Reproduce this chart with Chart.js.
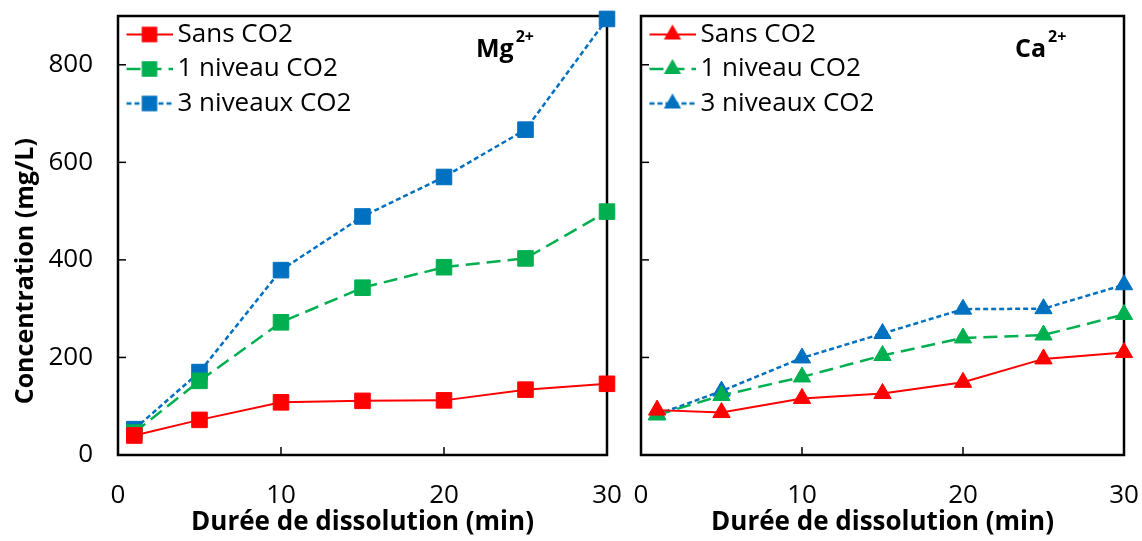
<!DOCTYPE html>
<html>
<head>
<meta charset="utf-8">
<script src="https://cdn.jsdelivr.net/npm/chart.js@4"></script>
<style>
    body { margin: 0; background: #fff; }
    #wrap { position: relative; width: 1142px; height: 541px; }
    canvas { position: absolute; top: 0; }
</style>
</head>
<body>
<div id="wrap">
    <canvas id="mgChart" width="630" height="541" style="left:0"></canvas>
    <canvas id="caChart" width="522" height="541" style="left:620px"></canvas>
</div>
<script>
// minutes of dissolution
var minutes = [1, 5, 10, 15, 20, 25, 30];
var seriesNames = ['Sans CO2', '1 niveau CO2', '3 niveaux CO2'];

// Mg2+ (mg/L)
var mgSans = [40, 72, 108, 111, 112, 134, 146];
var mgUn = [46, 152, 272, 343, 385, 403, 499];
var mgTrois = [53, 170, 379, 489, 570, 667, 894];

// Ca2+ (mg/L)
var caSans = [92, 87, 116, 126, 149, 197, 210];
var caUn = [82, 122, 160, 204, 240, 246, 288];
var caTrois = [83, 131, 199, 249, 299, 300, 349];

var xTicks = [0, 10, 20, 30];
var yTicks = [0, 200, 400, 600, 800];

var colors = ['#ff0000', '#00b050', '#0070c0'];
var dashes = [[], [14, 7], [5, 3]];
var widths = [2, 2.5, 2.5];

Chart.defaults.font.family = "'Open Sans'";
Chart.defaults.color = '#000';

function markerPath(g, marker, r, x, y) {
    g.beginPath();
    if (marker === 'triangle') {
        g.moveTo(x, y - r);
        g.lineTo(x + r * 0.866, y + r / 2);
        g.lineTo(x - r * 0.866, y + r / 2);
        g.closePath();
    } else {
        var s = r * Math.SQRT1_2;
        g.rect(x - s, y - s, 2 * s, 2 * s);
    }
}

// legend sample: a bit of line with the marker in the middle
function legendIcon(i, marker, radius) {
    var c = document.createElement('canvas');
    c.width = 54; c.height = 26;
    var g = c.getContext('2d');
    g.strokeStyle = colors[i];
    g.lineWidth = widths[i];
    g.setLineDash(dashes[i]);
    g.beginPath(); g.moveTo(8, 13); g.lineTo(54, 13); g.stroke();
    g.setLineDash([]);
    g.fillStyle = colors[i];
    markerPath(g, marker, radius, 31, 13);
    g.fill();
    return c;
}

function makeDatasets(series, marker, radius) {
    return series.map(function (vals, i) {
        return {
            label: seriesNames[i],
            data: minutes.map(function (m, j) { return { x: m, y: vals[j] }; }),
            borderColor: colors[i],
            backgroundColor: colors[i],
            borderWidth: widths[i],
            borderDash: dashes[i],
            pointStyle: marker,
            pointRadius: radius,
            pointHoverRadius: radius,
            pointBorderWidth: 1,
            tension: 0,
            clip: false
        };
    });
}

// box around the plot + inward tick marks
var frame = {
    id: 'frame',
    beforeDatasetsDraw: function (chart) {
        var ctx = chart.ctx, a = chart.chartArea;
        var xs = chart.scales.x, ys = chart.scales.y;
        ctx.save();
        ctx.strokeStyle = '#000';
        ctx.lineWidth = 1.5;
        ys.ticks.forEach(function (t) {
            if (t.value <= 0) return;
            var y = ys.getPixelForValue(t.value);
            ctx.beginPath(); ctx.moveTo(a.left, y); ctx.lineTo(a.left + 8, y); ctx.stroke();
        });
        xs.ticks.forEach(function (t) {
            if (t.value <= 0 || t.value >= 30) return;
            var x = xs.getPixelForValue(t.value);
            ctx.beginPath(); ctx.moveTo(x, a.bottom); ctx.lineTo(x, a.bottom - 8); ctx.stroke();
        });
        ctx.lineWidth = 2.5;
        ctx.strokeRect(a.left, a.top, a.right - a.left, a.bottom - a.top);
        ctx.restore();
    }
};

// ion name with superscript charge
var ionLabel = {
    id: 'ionLabel',
    afterDraw: function (chart, args, opts) {
        var ctx = chart.ctx, a = chart.chartArea;
        var x = a.right - opts.offset;
        ctx.save();
        ctx.fillStyle = '#000';
        ctx.font = "bold 25px 'Open Sans'";
        ctx.fillText(opts.ion, x, a.top + 41);
        var w = ctx.measureText(opts.ion).width;
        ctx.font = "bold 16px 'Open Sans'";
        ctx.fillText(opts.charge, x + w + 2, a.top + 26);
        ctx.restore();
    }
};

function makeChart(id, series, marker, radius, opts) {
    var icons = series.map(function (s, i) { return legendIcon(i, marker, radius); });
    return new Chart(document.getElementById(id), {
        type: 'line',
        data: { datasets: makeDatasets(series, marker, radius) },
        plugins: [frame, ionLabel],
        options: {
            responsive: false,
            animation: false,
            devicePixelRatio: 1,
            layout: { padding: { top: 16, right: opts.padRight, left: 0, bottom: 0 } },
            plugins: {
                tooltip: { enabled: false },
                ionLabel: { ion: opts.ion, charge: '2+', offset: opts.ionOffset },
                legend: {
                    position: 'chartArea',
                    align: 'start',
                    title: { display: true, text: '', font: { size: 13, lineHeight: 1 }, padding: 0 },
                    labels: {
                        usePointStyle: true,
                        pointStyleWidth: 38,
                        padding: 8.5,
                        color: '#000',
                        font: { size: 26 },
                        generateLabels: function (chart) {
                            return Chart.defaults.plugins.legend.labels.generateLabels(chart).map(function (it) {
                                it.pointStyle = icons[it.datasetIndex];
                                return it;
                            });
                        }
                    }
                }
            },
            scales: {
                x: {
                    type: 'linear',
                    min: 0,
                    max: 30,
                    afterBuildTicks: function (scale) {
                        scale.ticks = xTicks.map(function (v) { return { value: v }; });
                    },
                    afterFit: function (scale) { scale.height = 86; },
                    grid: { display: true, drawOnChartArea: false, drawTicks: true, tickLength: 25, color: 'transparent' },
                    border: { display: false },
                    ticks: { padding: 0, font: { size: 26 }, maxRotation: 0 },
                    title: {
                        display: true,
                        text: 'Durée de dissolution (min)',
                        font: { size: 26, weight: 'bold' },
                        padding: { top: 0, bottom: 3 }
                    }
                },
                y: {
                    min: 0,
                    max: 900,
                    afterBuildTicks: function (scale) {
                        scale.ticks = yTicks.map(function (v) { return { value: v }; });
                    },
                    afterFit: function (scale) { scale.width = opts.yWidth; },
                    grid: { display: true, drawOnChartArea: false, drawTicks: true, tickLength: 25, color: 'transparent' },
                    border: { display: false },
                    ticks: { display: opts.showY, padding: 0, font: { size: 26 } },
                    title: {
                        display: opts.showY,
                        // trailing no-break spaces push the title towards the bottom like the original
                        text: 'Concentration (mg/L)\u00a0\u00a0\u00a0\u00a0\u00a0\u00a0\u00a0\u00a0\u00a0\u00a0\u00a0',
                        font: { size: 25, weight: 'bold' },
                        padding: { top: 11, bottom: 0 }
                    }
                }
            }
        }
    });
}

makeChart('mgChart', [mgSans, mgUn, mgTrois], 'rect', 11,
    { padRight: 23, yWidth: 118, showY: true, ion: 'Mg', ionOffset: 131 });
makeChart('caChart', [caSans, caUn, caTrois], 'triangle', 10,
    { padRight: 18, yWidth: 21, showY: false, ion: 'Ca', ionOffset: 109 });
</script>
</body>
</html>
